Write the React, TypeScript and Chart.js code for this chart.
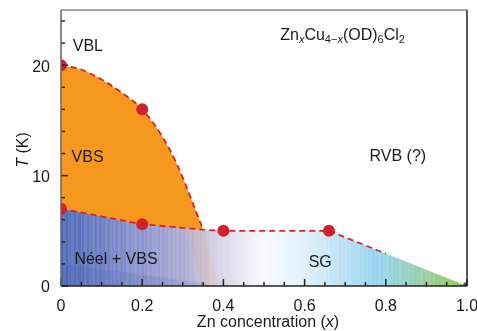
import { useEffect, useRef } from 'react';
import { Chart, registerables } from 'chart.js';
Chart.register(...registerables);

const FONT = '"Liberation Sans Narrow", "Liberation Sans", Arial, sans-serif';

// Upper VBS boundary (dashed curve)
const upperX = [0, 0.05, 0.1, 0.15, 0.2, 0.25, 0.286, 0.35];
const upperT = [20, 19.6, 18.7, 17.5, 16, 13.5, 11, 5.1];
// Lower boundary (Néel+VBS / SG region top)
const lowerX = [0, 0.2, 0.35, 0.4, 0.66, 1.0];
const lowerT = [7, 5.6, 5.1, 5.0, 5.0, 0];
// Dashed part of lower boundary
const dashLowX = [0, 0.2, 0.35, 0.4, 0.66, 0.8];
const dashLowT = [7, 5.6, 5.1, 5.0, 5.0, 2.94];
// Measured points
const measX = [0, 0.2, 0, 0.2, 0.4, 0.66];
const measT = [20, 16, 7, 5.6, 5.0, 5.0];
// VBL line at x=0
const vblX = [0, 0];
const vblT = [20, 25];
// Néel sub-region (darker)
const neelX = [0, 0, 0.35, 0.37];
const neelT = [0, 2, 0.3, 0];
// orange tint diagonal
const tintX = [0.31, 0.35, 0.39, 0.345];
const tintT = [5.25, 5.1, 0, 0];
// end point
const endX = [1.0];
const endT = [0];

const xTickVals = [0, 0.2, 0.4, 0.6, 0.8, 1.0];
const xTickLabels = ['0', '0.2', '0.4', '0.6', '0.8', '1.0'];
const yTickVals = [0, 10, 20];
const yTickLabels = ['0', '10', '20'];
const xMinor = [0.05, 0.1, 0.15, 0.25, 0.3, 0.35, 0.45, 0.5, 0.55, 0.65, 0.7, 0.75, 0.85, 0.9, 0.95];
const yMinor = [2, 4, 6, 8, 12, 14, 16, 18, 22, 24];

const labelText = ['VBL', 'VBS', 'Néel + VBS', 'SG', 'RVB (?)'];
const labelX = [0.029, 0.026, 0.033, 0.61, 0.76];
const labelT = [21.7, 11.6, 2.4, 2.1, 11.7];
const formulaX = 0.54;
const formulaT = 22.7;

const gradPos = [0, 0.1, 0.2, 0.3, 0.38, 0.45, 0.5, 0.55, 0.65, 0.78, 0.85, 0.92, 1.0];
const gradCol = [
  [80, 105, 182], [110, 128, 196], [140, 150, 206], [172, 170, 212], [212, 208, 230],
  [232, 232, 242], [250, 250, 253], [236, 246, 252], [205, 232, 248], [150, 212, 240],
  [150, 208, 195], [150, 205, 140], [140, 200, 70],
];

function sample(p: number): number[] {
  for (let i = 0; i < gradPos.length - 1; i++) {
    if (p <= gradPos[i + 1]) {
      const t = (p - gradPos[i]) / (gradPos[i + 1] - gradPos[i]);
      return gradCol[i].map((c, k) => c + (gradCol[i + 1][k] - c) * t);
    }
  }
  return gradCol[gradCol.length - 1];
}

let gradCache: any = null;
function stripeGradient(chart: any) {
  const ca = chart.chartArea;
  if (!ca) return 'rgba(0,0,0,0)';
  const key = ca.left + ',' + ca.right;
  if (gradCache && gradCache.key === key) return gradCache.g;
  const ctx = chart.ctx;
  const g = ctx.createLinearGradient(ca.left, 0, ca.right, 0);
  const w = ca.right - ca.left;
  const widths = [2, 3, 2, 2, 1, 3, 2, 2, 3, 1];
  let px = 0;
  let i = 0;
  while (px < w) {
    const sw = widths[i % widths.length];
    const p0 = px / w;
    const p1 = Math.min(1, (px + sw) / w);
    const base = sample((p0 + p1) / 2);
    const f = i % 2 === 0 ? 0 : 0.09;
    const c = base.map((v) => Math.round(v + (255 - v) * f));
    const s = `rgb(${c[0]},${c[1]},${c[2]})`;
    g.addColorStop(p0, s);
    g.addColorStop(p1, s);
    px += sw;
    i++;
  }
  gradCache = { key, g };
  return g;
}

const pts = (xs: number[], ys: number[]) => xs.map((x, i) => ({ x, y: ys[i] }));

const overlayPlugin = {
  id: 'overlay',
  afterDatasetsDraw(chart: any) {
    const { ctx, scales } = chart;
    const xs = scales.x;
    const ys = scales.y;
    ctx.save();
    ctx.fillStyle = '#1a1a1a';
    ctx.textBaseline = 'middle';
    ctx.textAlign = 'left';
    ctx.font = `16px ${FONT}`;
    labelText.forEach((t, i) => {
      ctx.fillText(t, xs.getPixelForValue(labelX[i]), ys.getPixelForValue(labelT[i]));
    });
    // formula
    let fx = xs.getPixelForValue(formulaX);
    const fy = ys.getPixelForValue(formulaT);
    const parts: [string, string, number][] = [
      ['Zn', 'n', 0], ['x', 'i', 1], ['Cu', 'n', 0], ['4−', 'n', 1], ['x', 'i', 1],
      ['(OD)', 'n', 0], ['6', 'n', 1], ['Cl', 'n', 0], ['2', 'n', 1],
    ];
    parts.forEach(([s, st, sub]) => {
      const size = sub ? 11 : 16;
      ctx.font = `${st === 'i' ? 'italic ' : ''}${size}px ${FONT}`;
      ctx.fillText(s, fx, fy + (sub ? 5 : 0));
      fx += ctx.measureText(s).width;
    });
    ctx.restore();
  },
  afterDraw(chart: any) {
    const { ctx, chartArea: ca, scales } = chart;
    const xs = scales.x;
    const ys = scales.y;
    ctx.save();
    ctx.lineWidth = 1.5;
    // ticks
    ctx.strokeStyle = '#222';
    const yt = (v: number, len: number) => {
      const p = ys.getPixelForValue(v);
      ctx.beginPath();
      ctx.moveTo(ca.left, p);
      ctx.lineTo(ca.left + len, p);
      ctx.stroke();
    };
    const xt = (v: number, len: number) => {
      const p = xs.getPixelForValue(v);
      ctx.beginPath();
      ctx.moveTo(p, ca.bottom);
      ctx.lineTo(p, ca.bottom - len);
      ctx.stroke();
    };
    yTickVals.forEach((v) => yt(v, 7));
    yMinor.forEach((v) => yt(v, 4));
    xTickVals.forEach((v) => xt(v, 7));
    xMinor.forEach((v) => xt(v, 4));
    // frame
    const line = (x1: number, y1: number, x2: number, y2: number, c: string) => {
      ctx.strokeStyle = c;
      ctx.beginPath();
      ctx.moveTo(x1, y1);
      ctx.lineTo(x2, y2);
      ctx.stroke();
    };
    line(ca.left, ca.top, ca.right, ca.top, '#8a8a8a');
    line(ca.right, ca.top, ca.right, ca.bottom, '#222');
    line(ca.left, ca.bottom, ca.right, ca.bottom, '#222');
    line(ca.left, ca.top, ca.left, ca.bottom, '#666');
    // titles
    ctx.fillStyle = '#1a1a1a';
    ctx.textBaseline = 'middle';
    const cx = (ca.left + ca.right) / 2 + 4;
    const p1 = 'Zn concentration (';
    const p2 = 'x';
    const p3 = ')';
    ctx.font = `16px ${FONT}`;
    const w1 = ctx.measureText(p1).width;
    const w3 = ctx.measureText(p3).width;
    ctx.font = `italic 16px ${FONT}`;
    const w2 = ctx.measureText(p2).width;
    let tx = cx - (w1 + w2 + w3) / 2;
    const ty = 323;
    ctx.textAlign = 'left';
    ctx.font = `16px ${FONT}`;
    ctx.fillText(p1, tx, ty);
    tx += w1;
    ctx.font = `italic 16px ${FONT}`;
    ctx.fillText(p2, tx, ty);
    tx += w2;
    ctx.font = `16px ${FONT}`;
    ctx.fillText(p3, tx, ty);
    // y title
    ctx.translate(24, (ca.top + ca.bottom) / 2 + 2);
    ctx.rotate(-Math.PI / 2);
    ctx.font = `italic 16px ${FONT}`;
    const a = ctx.measureText('T').width;
    ctx.font = `16px ${FONT}`;
    const b = ctx.measureText(' (K)').width;
    let yx = -(a + b) / 2;
    ctx.font = `italic 16px ${FONT}`;
    ctx.fillText('T', yx, 0);
    yx += a;
    ctx.font = `16px ${FONT}`;
    ctx.fillText(' (K)', yx, 0);
    ctx.restore();
  },
};

export default function App() {
  const ref = useRef<HTMLCanvasElement>(null);
  useEffect(() => {
    document.body.style.margin = '0';
    const red = 'rgb(210,32,44)';
    const dashRed = 'rgb(215,35,40)';
    const chart = new Chart(ref.current as HTMLCanvasElement, {
      type: 'line',
      data: {
        datasets: [
          { data: pts(measX, measT), showLine: false, pointRadius: 6, pointBackgroundColor: red, pointBorderWidth: 0, clip: 0 } as any,
          { data: pts(endX, endT), showLine: false, pointRadius: 4, pointBackgroundColor: 'rgb(50,80,160)', pointBorderWidth: 0, clip: 0 },
          { data: pts(dashLowX, dashLowT), borderColor: dashRed, borderWidth: 1.8, borderDash: [6, 4], pointRadius: 0, tension: 0, fill: false, clip: 0 },
          { data: pts(vblX, vblT), borderColor: 'rgb(245,230,70)', borderWidth: 2, pointRadius: 0, fill: false, clip: 0 },
          { data: pts(neelX, neelT), borderWidth: 0, pointRadius: 0, fill: 'shape', backgroundColor: 'rgba(40,70,170,0.12)', clip: 0 },
          { data: pts(tintX, tintT), borderWidth: 0, pointRadius: 0, fill: 'shape', backgroundColor: 'rgba(247,160,60,0.13)', clip: 0 },
          { data: pts(lowerX, lowerT), borderWidth: 0, pointRadius: 0, tension: 0, fill: 'origin', backgroundColor: (c: any) => stripeGradient(c.chart), clip: 0 },
          { data: pts(upperX, upperT), borderColor: dashRed, borderWidth: 1.8, borderDash: [6, 4], pointRadius: 0, cubicInterpolationMode: 'monotone', fill: 'origin', backgroundColor: 'rgb(247,152,30)', clip: 0 },
        ],
      },
      options: {
        animation: false,
        responsive: false,
        layout: { padding: { top: 10, right: 10, left: 0, bottom: 0 } },
        plugins: { legend: { display: false }, tooltip: { enabled: false } },
        scales: {
          x: {
            type: 'linear', min: 0, max: 1,
            grid: { display: false }, border: { display: false },
            afterBuildTicks: (s: any) => { s.ticks = xTickVals.map((v) => ({ value: v })); },
            ticks: {
              font: { family: FONT, size: 16 }, color: '#1a1a1a', padding: 3, maxRotation: 0, autoSkip: false,
              callback: (v: any) => xTickLabels[xTickVals.indexOf(Number(v))] ?? '',
            },
            afterFit: (s: any) => { s.height = 45; s.paddingLeft = 0; s.paddingRight = 0; },
          },
          y: {
            type: 'linear', min: 0, max: 25,
            grid: { display: false }, border: { display: false },
            afterBuildTicks: (s: any) => { s.ticks = yTickVals.map((v) => ({ value: v })); },
            ticks: {
              font: { family: FONT, size: 16 }, color: '#1a1a1a', padding: 3, autoSkip: false, labelOffset: 2,
              callback: (v: any) => yTickLabels[yTickVals.indexOf(Number(v))] ?? '',
            },
            afterFit: (s: any) => { s.width = 61; s.paddingTop = 0; s.paddingBottom = 0; },
          },
        },
      },
      plugins: [overlayPlugin],
    });
    return () => chart.destroy();
  }, []);
  return (
    <div style={{ width: 477, height: 331 }}>
      <canvas ref={ref} width={477} height={331} />
    </div>
  );
}
